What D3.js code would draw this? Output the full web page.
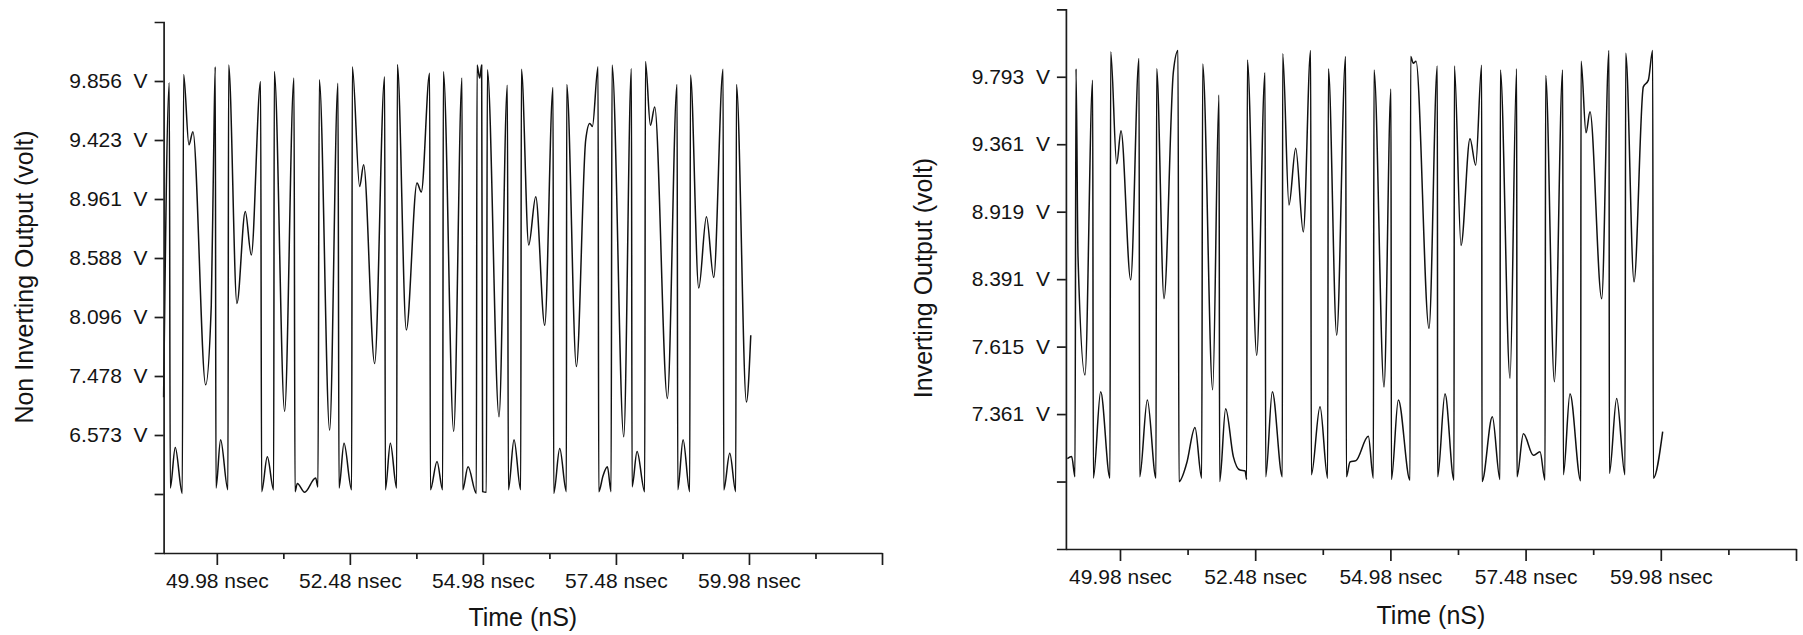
<!DOCTYPE html>
<html>
<head>
<meta charset="utf-8">
<script src="https://cdn.jsdelivr.net/npm/d3@7"></script>
<style>
  body { margin: 0; background: #fff; }
  svg { display: block; font-family: "Liberation Sans", Arial, sans-serif; }
</style>
</head>
<body>
<svg id="chart" width="1803" height="635"></svg>
<script>
// ---- shared time axis (ns) ----
const timeDomain = [48.98, 62.48];
const timeMajorTicks = [49.98, 52.48, 54.98, 57.48, 59.98, 62.48];
const timeMinorTicks = [51.23, 53.73, 56.23, 58.73, 61.23];
const timeTickLabels = ["49.98 nsec", "52.48 nsec", "54.98 nsec", "57.48 nsec", "59.98 nsec", ""];
const timeTitle = "Time (nS)";

// ---- vertical grid: divisions counted up from the time axis ----
const nonInvDivisions = 9;
const nonInvTickDivs = [1, 2, 3, 4, 5, 6, 7, 8];
const nonInvTickLabels = ["", "6.573", "7.478", "8.096", "8.588", "8.961", "9.423", "9.856"];
const nonInvTitle = "Non Inverting Output (volt)";

const invDivisions = 8;
const invTickDivs = [1, 2, 3, 4, 5, 6, 7];
const invTickLabels = ["", "7.361", "7.615", "8.391", "8.919", "9.361", "9.793"];
const invTitle = "Inverting Output (volt)";

// ---- traces: [time (ns), level (divisions)] ----
const nonInvertingTrace = [
  [48.980,2.64],[49.087,7.97],[49.105,1.10],[49.199,1.79],[49.331,1.01],[49.356,8.11],
  [49.456,6.92],[49.531,7.14],[49.770,2.85],[49.876,4.20],[49.920,6.75],[49.951,8.24],
  [49.964,1.10],[50.051,1.92],[50.189,1.07],[50.202,8.27],[50.358,4.23],[50.515,5.79],
  [50.628,5.05],[50.803,7.99],[50.822,1.04],[50.929,1.63],[51.048,1.07],[51.060,8.16],
  [51.254,2.40],[51.430,8.05],[51.449,1.04],[51.493,1.18],[51.630,1.03],[51.837,1.27],
  [51.881,1.12],[51.906,8.02],[52.100,2.08],[52.257,7.96],[52.276,1.10],[52.370,1.86],
  [52.514,1.07],[52.526,8.24],[52.664,6.21],[52.739,6.58],[52.946,3.21],[53.134,8.07],
  [53.147,1.07],[53.241,1.86],[53.360,1.10],[53.372,8.28],[53.541,3.78],[53.742,6.27],
  [53.823,6.12],[53.980,8.13],[53.993,1.07],[54.118,1.55],[54.224,1.07],[54.237,8.16],
  [54.431,2.06],[54.588,8.05],[54.600,1.07],[54.701,1.46],[54.857,1.01],[54.870,8.27],
  [54.920,8.05],[54.957,8.27],[54.976,1.04],[55.045,1.03],[55.064,8.19],[55.283,2.31],
  [55.440,7.93],[55.459,1.07],[55.565,1.92],[55.691,1.07],[55.703,8.20],[55.841,5.22],
  [55.973,6.04],[56.142,3.86],[56.298,7.89],[56.311,1.01],[56.424,1.77],[56.549,1.04],
  [56.555,7.94],[56.737,3.16],[56.912,7.00],[56.988,7.28],[57.038,7.23],[57.144,8.24],
  [57.157,1.04],[57.238,1.31],[57.320,1.46],[57.389,1.04],[57.407,8.27],[57.627,1.97],
  [57.771,8.21],[57.783,1.12],[57.877,1.72],[58.021,1.04],[58.034,8.33],[58.128,7.25],
  [58.209,7.56],[58.447,2.62],[58.629,7.94],[58.642,1.07],[58.742,1.92],[58.867,1.04],
  [58.880,8.10],[59.036,4.49],[59.181,5.70],[59.318,4.67],[59.494,8.20],[59.506,1.07],
  [59.619,1.69],[59.732,1.04],[59.744,7.94],[59.932,2.56],[60.014,3.69]
];

const invertingTrace = [
  [49.007,1.34],[49.087,1.37],[49.148,1.07],[49.167,7.12],[49.204,4.33],[49.333,2.58],
  [49.475,6.95],[49.487,1.05],[49.623,2.33],[49.795,1.05],[49.808,7.37],[49.919,5.71],
  [49.999,6.20],[50.178,3.99],[50.332,7.27],[50.344,1.07],[50.486,2.21],[50.646,1.05],
  [50.658,7.12],[50.794,3.71],[50.967,7.07],[51.053,7.39],[51.071,1.00],[51.213,1.27],
  [51.367,1.80],[51.491,1.05],[51.509,7.19],[51.694,2.36],[51.811,6.73],[51.823,1.00],
  [51.934,2.08],[52.076,1.37],[52.199,1.17],[52.292,1.16],[52.323,1.03],[52.335,7.25],
  [52.508,2.87],[52.662,7.06],[52.674,1.07],[52.797,2.33],[52.982,1.07],[52.988,7.34],
  [53.105,5.10],[53.229,5.94],[53.370,4.70],[53.506,7.39],[53.518,1.10],[53.679,2.11],
  [53.820,1.05],[53.833,7.12],[53.987,3.17],[54.153,7.30],[54.166,1.07],[54.233,1.29],
  [54.344,1.31],[54.572,1.67],[54.665,1.05],[54.677,7.10],[54.862,2.40],[54.991,6.82],
  [54.998,1.03],[55.127,2.21],[55.343,1.02],[55.355,7.30],[55.404,7.20],[55.454,7.23],
  [55.694,3.27],[55.848,7.16],[55.854,1.07],[55.990,2.30],[56.156,1.02],[56.163,7.16],
  [56.286,4.50],[56.452,6.08],[56.557,5.69],[56.668,7.17],[56.674,1.00],[56.865,1.96],
  [57.007,1.03],[57.013,7.10],[57.192,2.53],[57.315,7.12],[57.321,1.07],[57.439,1.71],
  [57.623,1.39],[57.747,1.44],[57.839,1.02],[57.851,7.02],[58.012,2.48],[58.166,7.10],
  [58.178,1.10],[58.301,2.30],[58.499,1.01],[58.505,7.23],[58.597,6.17],[58.671,6.48],
  [58.887,3.71],[59.023,7.39],[59.029,1.12],[59.164,2.23],[59.318,1.10],[59.331,7.35],
  [59.485,3.96],[59.657,6.85],[59.750,6.95],[59.830,7.39],[59.842,1.05],[60.015,1.74]
];

// ---- panel layout ----
const panels = [
  {
    trace: nonInvertingTrace, divisions: nonInvDivisions,
    tickDivs: nonInvTickDivs, tickLabels: nonInvTickLabels, title: nonInvTitle,
    xRange: [163.6, 882], yRange: [553, 22],
    yTitleX: 33, yTitleY: 277, xTitleY: 626
  },
  {
    trace: invertingTrace, divisions: invDivisions,
    tickDivs: invTickDivs, tickLabels: invTickLabels, title: invTitle,
    xRange: [1065.9, 1796], yRange: [549, 9.3],
    yTitleX: 932, yTitleY: 278, xTitleY: 624
  }
];

const svg = d3.select("#chart");
const axisColor = "#1c1c1c";
const textColor = "#141414";

panels.forEach(p => {
  const x = d3.scaleLinear().domain(timeDomain).range(p.xRange);
  const y = d3.scaleLinear().domain([0, p.divisions]).range(p.yRange);
  const g = svg.append("g");

  // waveform
  const line = d3.line()
    .x(d => x(d[0]))
    .y(d => y(d[1]))
    .curve(d3.curveMonotoneX);
  g.append("path")
    .datum(p.trace)
    .attr("fill", "none")
    .attr("stroke", "#111")
    .attr("stroke-width", 1.5)
    .attr("stroke-linejoin", "round")
    .attr("d", line);

  // vertical axis with capped ends
  const yAxis = d3.axisLeft(y)
    .tickValues(p.tickDivs)
    .tickSize(9)
    .tickSizeOuter(9)
    .tickPadding(7)
    .tickFormat((d, i) => p.tickLabels[i] ? p.tickLabels[i] + "\u00a0\u00a0V" : "");
  const gy = g.append("g")
    .attr("transform", `translate(${x(timeDomain[0])},0)`)
    .call(yAxis);

  // time axis: minor ticks
  const gxMinor = g.append("g")
    .attr("transform", `translate(0,${y(0)})`)
    .call(d3.axisBottom(x).tickValues(timeMinorTicks).tickSize(6).tickFormat(""));
  gxMinor.select(".domain").remove();

  // time axis: major ticks and labels
  const xAxis = d3.axisBottom(x)
    .tickValues(timeMajorTicks)
    .tickSize(12)
    .tickSizeOuter(0)
    .tickPadding(8)
    .tickFormat((d, i) => timeTickLabels[i]);
  const gx = g.append("g")
    .attr("transform", `translate(0,${y(0)})`)
    .call(xAxis);

  [gy, gx, gxMinor].forEach(a => {
    a.selectAll(".domain").attr("stroke", axisColor).attr("stroke-width", 1.7);
    a.selectAll(".tick line").attr("stroke", axisColor).attr("stroke-width", 1.7);
    a.selectAll("text")
      .attr("fill", textColor)
      .style("font-size", "21px")
      .style("white-space", "pre");
  });

  // axis titles
  g.append("text")
    .attr("x", (p.xRange[0] + p.xRange[1]) / 2)
    .attr("y", p.xTitleY)
    .attr("text-anchor", "middle")
    .attr("fill", textColor)
    .style("font-size", "25px")
    .text(timeTitle);

  g.append("text")
    .attr("transform", `translate(${p.yTitleX},${p.yTitleY}) rotate(-90)`)
    .attr("text-anchor", "middle")
    .attr("fill", textColor)
    .style("font-size", "25px")
    .text(p.title);
});
</script>
</body>
</html>
